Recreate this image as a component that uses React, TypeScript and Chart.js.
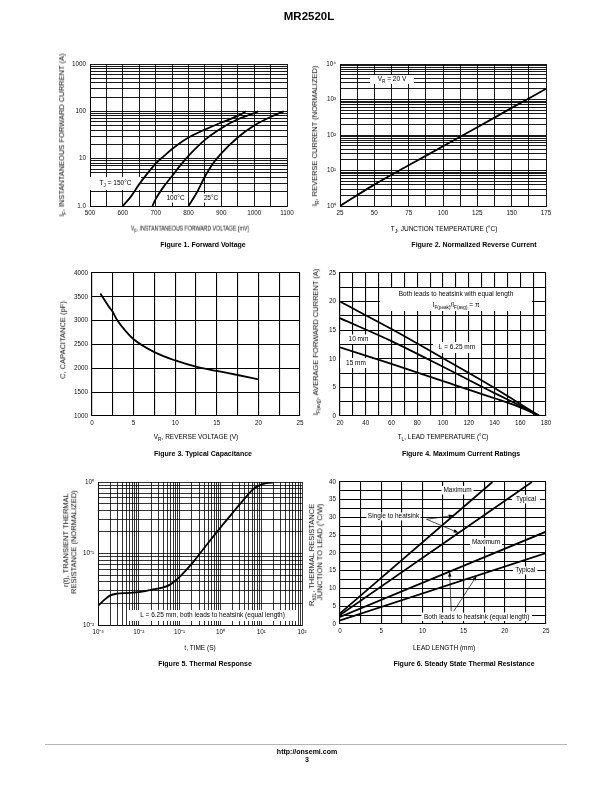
import React, { useEffect, useRef } from 'react';
import { Chart, registerables } from 'chart.js';

Chart.register(...registerables);

const FONT = "'Liberation Sans', Arial, Helvetica, sans-serif";

// ---------------- Figure 1: Forward Voltage ----------------
const fig1VF150 = [600, 625, 650, 675, 700, 725, 750, 800, 850, 900, 950, 975];
const fig1IF150 = [1.0, 1.6, 2.9, 4.9, 7.9, 11.3, 16, 28, 41, 58, 80, 100];
const fig1VF100 = [690, 700, 725, 750, 775, 800, 850, 900, 950, 1000, 1012];
const fig1IF100 = [1.0, 1.4, 2.6, 4.3, 7.2, 11.5, 25, 44, 68, 92, 100];
const fig1VF25 = [800, 825, 850, 875, 900, 950, 1000, 1050, 1090];
const fig1IF25 = [1.0, 1.9, 4.2, 8.0, 13, 28, 50, 76, 100];
const fig1XLabels = [500, 600, 700, 800, 900, 1000, 1100];
const fig1YLabels = [1, 10, 100, 1000];
const fig1YText = ['1.0', '10', '100', '1000'];

// ---------------- Figure 2: Normalized Reverse Current ----------------
const fig2TJ = [25, 50, 75, 100, 125, 150, 175];
const fig2IR = [1, 4, 14, 48, 165, 580, 2000];
const fig2XLabels = [25, 50, 75, 100, 125, 150, 175];
const fig2YLabels = [1, 10, 100, 1000, 10000];
const fig2YText = ['10⁰', '10¹', '10²', '10³', '10⁴'];

// ---------------- Figure 3: Typical Capacitance ----------------
const fig3VR = [1, 2, 2.5, 3, 4, 5, 7.5, 10, 12.5, 15, 17.5, 20];
const fig3C = [3570, 3300, 3180, 3020, 2790, 2610, 2340, 2165, 2035, 1945, 1860, 1770];
const fig3XLabels = [0, 5, 10, 15, 20, 25];
const fig3YLabels = [1000, 1500, 2000, 2500, 3000, 3500, 4000];

// ---------------- Figure 4: Maximum Current Ratings ----------------
const fig4TL = [20, 60, 100, 140, 160, 175];
const fig4I625 = [20, 15.2, 10.1, 4.9, 2.1, 0];
const fig4I10 = [17.1, 13.1, 8.6, 4.0, 1.8, 0];
const fig4I15 = [12, 9.1, 6.1, 3.1, 1.5, 0];
const fig4XLabels = [20, 40, 60, 80, 100, 120, 140, 160, 180];
const fig4YLabels = [0, 5, 10, 15, 20, 25];

// ---------------- Figure 5: Thermal Response ----------------
const fig5T = [0.001, 0.0015, 0.002, 0.003, 0.005, 0.01, 0.02, 0.04, 0.06, 0.1, 0.2, 0.3, 0.5, 1, 2, 3, 5, 7, 10, 15, 20];
const fig5R = [0.0185, 0.023, 0.026, 0.0275, 0.028, 0.0288, 0.031, 0.0335, 0.037, 0.047, 0.072, 0.097, 0.14, 0.23, 0.37, 0.49, 0.69, 0.83, 0.92, 0.97, 0.985];
const fig5XLabels = [0.001, 0.01, 0.1, 1, 10, 100];
const fig5XText = ['10⁻³', '10⁻²', '10⁻¹', '10⁰', '10¹', '10²'];
const fig5YLabels = [0.01, 0.1, 1];
const fig5YText = ['10⁻²', '10⁻¹', '10⁰'];

// ---------------- Figure 6: Steady State Thermal Resistance ----------------
const fig6SingleMaxL = [0, 18.5];
const fig6SingleMaxR = [3, 40];
const fig6SingleTypL = [0, 23.3];
const fig6SingleTypR = [2.5, 40];
const fig6BothMaxL = [0, 25];
const fig6BothMaxR = [2, 26];
const fig6BothTypL = [0, 25];
const fig6BothTypR = [1, 20];
const fig6XLabels = [0, 5, 10, 15, 20, 25];
const fig6YLabels = [0, 5, 10, 15, 20, 25, 30, 35, 40];

// ---------------- helpers ----------------
type Seg = { t: string; sub?: boolean; sup?: boolean };
type Note = { x0: number; y0: number; x1: number; y1: number; lines: Seg[][]; size?: number };
type Box = { L: number; T: number; R: number; B: number };

const PAD = { l: 32, t: 8, r: 14, b: 16 };

function logGrid(minExp: number, maxExp: number): number[] {
  const out: number[] = [];
  for (let e = minExp; e < maxExp; e++) for (let m = 1; m < 10; m++) out.push(m * Math.pow(10, e));
  out.push(Math.pow(10, maxExp));
  return out;
}
function linGrid(min: number, max: number, step: number): number[] {
  const out: number[] = [];
  for (let i = 0; min + i * step <= max + 1e-9; i++) out.push(+(min + i * step).toFixed(6));
  return out;
}

function axis(kind: 'x' | 'y', type: string, min: number, max: number, grid: number[], labelVals: number[], labelText: string[] | null, lw: number) {
  return {
    type,
    min,
    max,
    position: kind === 'x' ? 'bottom' : 'left',
    afterBuildTicks: (s: any) => {
      s.ticks = grid.map((v) => ({ value: v }));
    },
    afterFit: (s: any) => {
      if (kind === 'x') s.height = PAD.b;
      else s.width = PAD.l;
    },
    ticks: {
      autoSkip: false,
      maxRotation: 0,
      minRotation: 0,
      padding: kind === 'x' ? 3 : 4,
      color: '#111',
      font: { family: FONT, size: 6.3 },
      callback: (v: any) => {
        const i = labelVals.findIndex((l) => Math.abs(l - v) <= Math.max(Math.abs(l), 1e-12) * 1e-6);
        if (i < 0) return '';
        return labelText ? labelText[i] : String(labelVals[i]);
      },
    },
    grid: { color: '#000', lineWidth: lw, drawTicks: false },
    border: { color: '#000', width: lw },
  };
}

function lineDs(xs: number[], ys: number[], smooth = true) {
  return {
    data: xs.map((x, i) => ({ x, y: ys[i] })),
    borderColor: '#000',
    borderWidth: 1.8,
    pointRadius: 0,
    fill: false,
    tension: 0,
    cubicInterpolationMode: smooth ? 'monotone' : 'default',
  };
}

function drawRich(ctx: CanvasRenderingContext2D, segs: Seg[], cx: number, cy: number, size: number) {
  const fs = (s: Seg) => (s.sub || s.sup ? size * 0.72 : size);
  let w = 0;
  for (const s of segs) {
    ctx.font = `${fs(s)}px ${FONT}`;
    w += ctx.measureText(s.t).width;
  }
  let x = cx - w / 2;
  ctx.textBaseline = 'middle';
  ctx.textAlign = 'left';
  ctx.fillStyle = '#000';
  for (const s of segs) {
    ctx.font = `${fs(s)}px ${FONT}`;
    const dy = s.sub ? size * 0.32 : s.sup ? -size * 0.35 : 0;
    ctx.fillText(s.t, x, cy + dy);
    x += ctx.measureText(s.t).width;
  }
}

function notesPlugin(box: Box, notes: Note[]) {
  return {
    id: 'notes',
    beforeDatasetsDraw(chart: any) {
      const ctx = chart.ctx as CanvasRenderingContext2D;
      const ox = box.L - PAD.l;
      const oy = box.T - PAD.t;
      ctx.save();
      for (const a of notes) {
        ctx.fillStyle = '#fff';
        ctx.fillRect(a.x0 - ox, a.y0 - oy, a.x1 - a.x0, a.y1 - a.y0);
        const size = a.size ?? 6.5;
        const n = a.lines.length;
        const lh = size * 1.75;
        const cy = (a.y0 + a.y1) / 2 - oy;
        a.lines.forEach((ln, i) => drawRich(ctx, ln, (a.x0 + a.x1) / 2 - ox, cy + (i - (n - 1) / 2) * lh, size));
      }
      ctx.restore();
    },
  };
}

function makeConfig(xAx: any, yAx: any, datasets: any[], plugins: any[]) {
  return {
    type: 'line',
    data: { datasets },
    options: {
      responsive: false,
      animation: false,
      devicePixelRatio: 1,
      events: [],
      layout: { padding: { left: 0, top: PAD.t, right: PAD.r, bottom: 0 } },
      plugins: { legend: { display: false }, tooltip: { enabled: false }, title: { display: false } },
      scales: { x: xAx, y: yAx },
    },
    plugins,
  };
}

function ChartBox({ box, make }: { box: Box; make: () => any }) {
  const ref = useRef<HTMLCanvasElement>(null);
  const w = box.R - box.L + PAD.l + PAD.r;
  const h = box.B - box.T + PAD.t + PAD.b;
  useEffect(() => {
    const c = new Chart(ref.current as HTMLCanvasElement, make());
    return () => c.destroy();
  }, []);
  return (
    <canvas
      ref={ref}
      width={w}
      height={h}
      style={{ position: 'absolute', left: box.L - PAD.l, top: box.T - PAD.t, width: w, height: h }}
    />
  );
}

function Txt({ x, y, rot = 0, size = 6.5, sx = 1, bold = false, children }: any) {
  return (
    <div
      style={{
        position: 'absolute',
        left: x,
        top: y,
        transform: `translate(-50%, -50%) rotate(${rot}deg) scaleX(${sx})`,
        willChange: 'transform',
        whiteSpace: 'nowrap',
        fontFamily: FONT,
        fontSize: size,
        fontWeight: bold ? 700 : 400,
        lineHeight: 1,
        color: '#000',
      }}
    >
      {children}
    </div>
  );
}
function Sub({ children, size = 4.8 }: any) {
  return <span style={{ fontSize: `${size}px`, position: 'relative', top: `${size * 0.45}px` }}>{children}</span>;
}

// ---------------- boxes (plot areas in page px) ----------------
const B1: Box = { L: 90, T: 64, R: 287, B: 206 };
const B2: Box = { L: 340, T: 64, R: 546, B: 206 };
const B3: Box = { L: 92, T: 273, R: 300, B: 416 };
const B4: Box = { L: 340, T: 273, R: 546, B: 416 };
const B5: Box = { L: 98, T: 482, R: 302, B: 625 };
const B6: Box = { L: 340, T: 482, R: 546, B: 624 };

const notes1: Note[] = [
  { x0: 90, y0: 177, x1: 141, y1: 190, lines: [[{ t: 'T' }, { t: 'J', sub: true }, { t: ' = 150°C' }]] },
  { x0: 164, y0: 193.5, x1: 187, y1: 202.5, lines: [[{ t: '100°C' }]] },
  { x0: 201, y0: 193.5, x1: 221, y1: 202.5, lines: [[{ t: '25°C' }]] },
];
const notes2: Note[] = [{ x0: 370, y0: 75, x1: 414, y1: 84, lines: [[{ t: 'V' }, { t: 'R', sub: true }, { t: ' = 20 V' }]] }];
const notes4: Note[] = [
  {
    x0: 380, y0: 288, x1: 532, y1: 311,
    lines: [
      [{ t: 'Both leads to heatsink with equal length' }],
      [{ t: 'I' }, { t: 'F(peak)', sub: true }, { t: '/I' }, { t: 'F(avg)', sub: true }, { t: ' = π' }],
    ],
  },
  { x0: 340, y0: 334.5, x1: 377, y1: 344, lines: [[{ t: '10 mm' }]] },
  { x0: 340, y0: 358, x1: 372, y1: 368, lines: [[{ t: '15 mm' }]] },
  { x0: 433, y0: 342, x1: 481, y1: 353, lines: [[{ t: 'L = 6.25 mm' }]] },
];
const notes5: Note[] = [
  { x0: 127, y0: 610, x1: 298, y1: 621, lines: [[{ t: 'L = 6.25 mm, both leads to heatsink (equal length)' }]] },
];
const notes6: Note[] = [
  { x0: 441.5, y0: 486, x1: 473.5, y1: 494.5, lines: [[{ t: 'Maximum' }]] },
  { x0: 512, y0: 495, x1: 540, y1: 503.5, lines: [[{ t: 'Typical' }]] },
  { x0: 366.5, y0: 512.5, x1: 420.5, y1: 520.5, lines: [[{ t: 'Single to heatsink' }]] },
  { x0: 470, y0: 538, x1: 502, y1: 546.5, lines: [[{ t: 'Maximum' }]] },
  { x0: 513, y0: 566.5, x1: 537.5, y1: 574.5, lines: [[{ t: 'Typical' }]] },
  { x0: 421.5, y0: 612.5, x1: 532, y1: 621, lines: [[{ t: 'Both leads to heatsink (equal length)' }]] },
];

const fig6Series = [
  [fig6SingleMaxL, fig6SingleMaxR],
  [fig6SingleTypL, fig6SingleTypR],
  [fig6BothMaxL, fig6BothMaxR],
  [fig6BothTypL, fig6BothTypR],
];
const fig6Arrows = [
  { fx: 10.5, fy: 29.5, s: 0, at: 13.8 },
  { fx: 10.5, fy: 29.5, s: 1, at: 14.4 },
  { fx: 13.5, fy: 3.6, s: 2, at: 13.3 },
  { fx: 13.8, fy: 3.6, s: 3, at: 16.6 },
];
function valAt(xs: number[], ys: number[], x: number) {
  for (let i = 0; i < xs.length - 1; i++) {
    if (x >= xs[i] && x <= xs[i + 1]) return ys[i] + ((ys[i + 1] - ys[i]) * (x - xs[i])) / (xs[i + 1] - xs[i]);
  }
  return ys[ys.length - 1];
}
const arrowPlugin = {
  id: 'arrows',
  afterDatasetsDraw(chart: any) {
    const ctx = chart.ctx as CanvasRenderingContext2D;
    const xs = chart.scales.x;
    const ys = chart.scales.y;
    ctx.save();
    ctx.strokeStyle = '#000';
    ctx.fillStyle = '#000';
    ctx.lineWidth = 0.7;
    for (const a of fig6Arrows) {
      const [sx, sy] = fig6Series[a.s];
      const x0 = xs.getPixelForValue(a.fx);
      const y0 = ys.getPixelForValue(a.fy);
      const x1 = xs.getPixelForValue(a.at);
      const y1 = ys.getPixelForValue(valAt(sx, sy, a.at));
      const ang = Math.atan2(y1 - y0, x1 - x0);
      const hl = 5;
      const hw = 1.7;
      ctx.beginPath();
      ctx.moveTo(x0, y0);
      ctx.lineTo(x1 - Math.cos(ang) * hl * 0.8, y1 - Math.sin(ang) * hl * 0.8);
      ctx.stroke();
      ctx.beginPath();
      ctx.moveTo(x1, y1);
      ctx.lineTo(x1 - Math.cos(ang) * hl - Math.sin(ang) * hw, y1 - Math.sin(ang) * hl + Math.cos(ang) * hw);
      ctx.lineTo(x1 - Math.cos(ang) * hl + Math.sin(ang) * hw, y1 - Math.sin(ang) * hl - Math.cos(ang) * hw);
      ctx.closePath();
      ctx.fill();
    }
    ctx.restore();
  },
};

// ---------------- chart configs ----------------
const make1 = () =>
  makeConfig(
    axis('x', 'linear', 500, 1100, linGrid(500, 1100, 50), fig1XLabels, null, 0.9),
    axis('y', 'logarithmic', 1, 1000, logGrid(0, 3), fig1YLabels, fig1YText, 0.9),
    [lineDs(fig1VF150, fig1IF150), lineDs(fig1VF100, fig1IF100), lineDs(fig1VF25, fig1IF25)],
    [notesPlugin(B1, notes1)]
  );
const make2 = () =>
  makeConfig(
    axis('x', 'linear', 25, 175, linGrid(25, 175, 12.5), fig2XLabels, null, 0.9),
    axis('y', 'logarithmic', 1, 10000, logGrid(0, 4), fig2YLabels, fig2YText, 0.9),
    [lineDs(fig2TJ, fig2IR)],
    [notesPlugin(B2, notes2)]
  );
const make3 = () =>
  makeConfig(
    axis('x', 'linear', 0, 25, linGrid(0, 25, 2.5), fig3XLabels, null, 1.1),
    axis('y', 'linear', 1000, 4000, linGrid(1000, 4000, 500), fig3YLabels, null, 1.1),
    [lineDs(fig3VR, fig3C)],
    []
  );
const make4 = () =>
  makeConfig(
    axis('x', 'linear', 20, 180, linGrid(20, 180, 10), fig4XLabels, null, 1.1),
    axis('y', 'linear', 0, 25, linGrid(0, 25, 2.5), fig4YLabels, null, 1.1),
    [lineDs(fig4TL, fig4I625), lineDs(fig4TL, fig4I10), lineDs(fig4TL, fig4I15)],
    [notesPlugin(B4, notes4)]
  );
const make5 = () =>
  makeConfig(
    axis('x', 'logarithmic', 0.001, 100, logGrid(-3, 2), fig5XLabels, fig5XText, 0.8),
    axis('y', 'logarithmic', 0.01, 1, logGrid(-2, 0), fig5YLabels, fig5YText, 0.8),
    [lineDs(fig5T, fig5R)],
    [notesPlugin(B5, notes5)]
  );
const make6 = () =>
  makeConfig(
    axis('x', 'linear', 0, 25, linGrid(0, 25, 2.5), fig6XLabels, null, 1.1),
    axis('y', 'linear', 0, 40, linGrid(0, 40, 2.5), fig6YLabels, null, 1.1),
    fig6Series.map(([xs, ys]) => lineDs(xs, ys, false)),
    [notesPlugin(B6, notes6), arrowPlugin]
  );

export default function App() {
  return (
    <div style={{ position: 'absolute', left: 0, top: 0, width: 612, height: 792, background: '#fff', overflow: 'hidden' }}>
      <Txt x={309} y={17} size={11.5} bold>MR2520L</Txt>

      <ChartBox box={B1} make={make1} />
      <ChartBox box={B2} make={make2} />
      <ChartBox box={B3} make={make3} />
      <ChartBox box={B4} make={make4} />
      <ChartBox box={B5} make={make5} />
      <ChartBox box={B6} make={make6} />

      {/* Figure 1 */}
      <Txt x={62} y={135} rot={-90} size={7.5}>
        I<Sub>F</Sub>, INSTANTANEOUS FORWARD CURRENT (A)
      </Txt>
      <Txt x={190} y={228.5} sx={0.8}>
        V<Sub>F</Sub>, INSTANTANEOUS FORWARD VOLTAGE (mV)
      </Txt>
      <Txt x={203} y={244} size={7} bold>Figure 1. Forward Voltage</Txt>

      {/* Figure 2 */}
      <Txt x={315} y={136} rot={-90} size={7.5}>
        I<Sub>R</Sub>, REVERSE CURRENT (NORMALIZED)
      </Txt>
      <Txt x={444} y={228.5}>
        T<Sub>J</Sub>, JUNCTION TEMPERATURE (°C)
      </Txt>
      <Txt x={474} y={244} size={7} bold>Figure 2. Normalized Reverse Current</Txt>

      {/* Figure 3 */}
      <Txt x={63} y={340} rot={-90} size={7.5}>C, CAPACITANCE (pF)</Txt>
      <Txt x={196} y={437}>
        V<Sub>R</Sub>, REVERSE VOLTAGE (V)
      </Txt>
      <Txt x={203} y={453} size={7} bold>Figure 3. Typical Capacitance</Txt>

      {/* Figure 4 */}
      <Txt x={316} y={342} rot={-90} size={7.5}>
        I<Sub>F(avg)</Sub>, AVERAGE FORWARD CURRENT (A)
      </Txt>
      <Txt x={443} y={437}>
        T<Sub>L</Sub>, LEAD TEMPERATURE (°C)
      </Txt>
      <Txt x={461} y={453} size={7} bold>Figure 4. Maximum Current Ratings</Txt>

      {/* Figure 5 */}
      <Txt x={66} y={540} rot={-90} size={7.5}>r(t), TRANSIENT THERMAL</Txt>
      <Txt x={74} y={542} rot={-90} size={7.5}>RESISTANCE (NORMALIZED)</Txt>
      <Txt x={200} y={648}>t, TIME (S)</Txt>
      <Txt x={205} y={663} size={7} bold>Figure 5. Thermal Response</Txt>

      {/* Figure 6 */}
      <Txt x={311.5} y={555} rot={-90} size={7.5}>
        R<Sub>θJL</Sub>, THERMAL RESISTANCE
      </Txt>
      <Txt x={320} y={552} rot={-90} size={7.5}>JUNCTION TO LEAD (°C/W)</Txt>
      <Txt x={444} y={648}>LEAD LENGTH (mm)</Txt>
      <Txt x={464} y={663} size={7} bold>Figure 6. Steady State Thermal Resistance</Txt>

      {/* Footer */}
      <div style={{ position: 'absolute', left: 45, top: 743.5, width: 522, height: 1.5, background: '#b5b5b5' }} />
      <Txt x={307} y={751} size={7} bold>http://onsemi.com</Txt>
      <Txt x={307} y={759} size={7} bold>3</Txt>
    </div>
  );
}
